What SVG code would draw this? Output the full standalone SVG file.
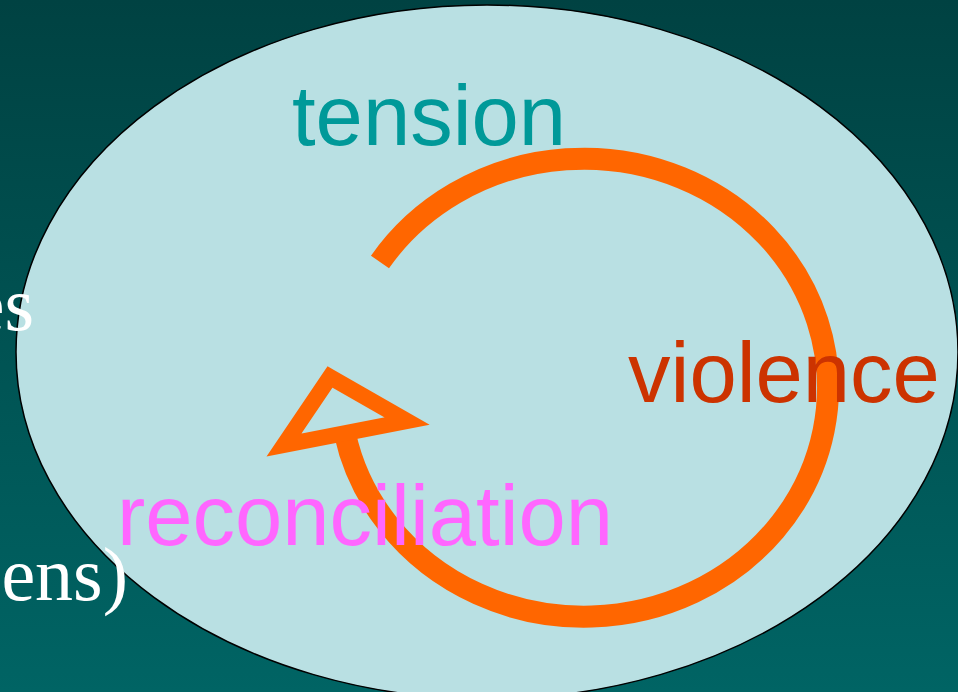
<svg xmlns="http://www.w3.org/2000/svg" width="958" height="692" viewBox="0 0 958 692">
<defs>
<linearGradient id="bg" x1="0" y1="0" x2="0" y2="1">
<stop offset="0" stop-color="#004242"/>
<stop offset="1" stop-color="#006464"/>
</linearGradient>
<style>
.lbl{font-family:"Liberation Sans",Arial,sans-serif;font-size:85px}
.ser{font-family:"Liberation Serif","Times New Roman",serif;font-size:76px;fill:#ffffff}
.cyc{fill:none;stroke:#ff6600;stroke-width:22}
</style>
</defs>
<rect x="0" y="0" width="958" height="692" fill="url(#bg)"/>
<g id="circle-bg">
<ellipse cx="487" cy="352" rx="471" ry="347" fill="#b9e0e3" stroke="#000000" stroke-width="1.5"/>
</g>
<g id="connectors">
<path class="cyc" d="M 380 262 A 244 229 0 1 1 345 434"/>
<polygon points="330,377 407,421 284,445" fill="none" stroke="#ff6600" stroke-width="16" stroke-linejoin="miter" stroke-miterlimit="10"/>
</g>
<g id="bg-text">
<text class="ser" x="34" y="330" text-anchor="end">es</text>
<text class="ser" x="128" y="600" text-anchor="end">ens)</text>
</g>
<g id="tension"><text class="lbl" x="292" y="145" fill="#009999">tension</text></g>
<g id="violence"><text class="lbl" x="628" y="402" fill="#cc3300">violence</text></g>
<g id="reconciliation"><text class="lbl" x="117" y="545" fill="#ff66ff">reconciliation</text></g>
</svg>
